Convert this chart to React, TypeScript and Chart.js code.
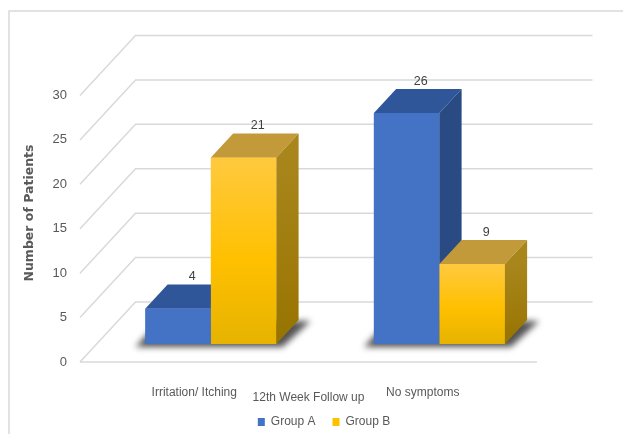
import { useEffect, useRef } from "react";
import { Chart, registerables } from "chart.js";

Chart.register(...registerables);

// ---- data ----
const categories = ["Irritation/ Itching", "No symptoms"];
const seriesNames = ["Group A", "Group B"];
const groupA = [4, 26];
const groupB = [21, 9];
const yMin = 0;
const yMax = 30;
const yStep = 5;
const xTitle = "12th Week Follow up";
const yTitle = "Number of Patients";

// ---- styling ----
const SANS = '"Liberation Sans", Arial, sans-serif';
const TEXT = "#595959";
const GRID = "#d9d9d9";
const BLUE = { front: "#4472c4", top: "#30569a", side: "#294a82" };
const GOLD = { front: "#ffc000", top: "#c39a3a", side: "#a07c12" };
const LEGEND_COLORS = ["#4472c4", "#ffc000"];

// oblique depth of the plot box and where the bars sit inside it
const DEPTH = { x: 55.5, y: -60 };
const BAR_FRONT = 0.3;
const BAR_DEPTH = 0.4;

const W = 623;
const H = 440;

function goldFront(c: any) {
  const chart = c.chart;
  const ys = chart.scales?.y;
  if (!ys || !c.parsed) return GOLD.front;
  const top = ys.getPixelForValue(c.parsed.y);
  const base = ys.getPixelForValue(0);
  if (!Number.isFinite(top) || !Number.isFinite(base) || top === base) return GOLD.front;
  const g = chart.ctx.createLinearGradient(0, top, 0, base);
  g.addColorStop(0, "#ffc93f");
  g.addColorStop(0.55, "#ffc000");
  g.addColorStop(1, "#e6b300");
  return g;
}

function goldSide(ctx: CanvasRenderingContext2D, top: number, base: number) {
  const g = ctx.createLinearGradient(0, top, 0, base);
  g.addColorStop(0, "#a9861c");
  g.addColorStop(1, "#977400");
  return g;
}

const faces = [BLUE, GOLD];

const box3d = {
  id: "box3d",
  beforeDraw(chart: any) {
    const { ctx } = chart;
    ctx.save();
    ctx.strokeStyle = GRID;
    ctx.lineWidth = 1.5;
    ctx.beginPath();
    ctx.moveTo(9, H);
    ctx.lineTo(9, 11);
    ctx.lineTo(W, 11);
    ctx.stroke();
    ctx.restore();
  },
  beforeDatasetsDraw(chart: any) {
    const { ctx, chartArea } = chart;
    const { left, right } = chartArea;
    const y = chart.scales.y;
    ctx.save();
    ctx.strokeStyle = GRID;
    ctx.lineWidth = 1.5;
    for (const t of y.ticks) {
      const py = y.getPixelForValue(t.value);
      ctx.beginPath();
      ctx.moveTo(left, py);
      ctx.lineTo(left + DEPTH.x, py + DEPTH.y);
      ctx.lineTo(right + DEPTH.x, py + DEPTH.y);
      ctx.stroke();
    }
    const y0 = y.getPixelForValue(0);
    ctx.beginPath();
    ctx.moveTo(left, y0);
    ctx.lineTo(right, y0);
    ctx.stroke();

    // soft floor shadow under each bar group
    ctx.translate(DEPTH.x * BAR_FRONT, DEPTH.y * BAR_FRONT);
    const m0 = chart.getDatasetMeta(0).data;
    const m1 = chart.getDatasetMeta(1).data;
    const dx = DEPTH.x * BAR_DEPTH;
    const dy = DEPTH.y * BAR_DEPTH;
    ctx.filter = "blur(3px)";
    ctx.fillStyle = "rgba(40,40,40,0.8)";
    for (let i = 0; i < m0.length; i++) {
      const a = m0[i];
      const b = m1[i];
      const x1 = a.x - a.width / 2;
      const x2 = b.x + b.width / 2;
      const base = a.base;
      ctx.beginPath();
      ctx.moveTo(x1 - 10, base + 3);
      ctx.lineTo(x2 + 6, base + 3);
      ctx.lineTo(x2 + dx + 12, base + dy + 1);
      ctx.lineTo(x1 + dx - 8, base + dy + 1);
      ctx.closePath();
      ctx.fill();
    }
    ctx.filter = "none";
    ctx.restore();

    // bars are drawn one step into the box
    ctx.save();
    ctx.translate(DEPTH.x * BAR_FRONT, DEPTH.y * BAR_FRONT);
  },
  afterDatasetsDraw(chart: any) {
    const { ctx } = chart;
    const dx = DEPTH.x * BAR_DEPTH;
    const dy = DEPTH.y * BAR_DEPTH;
    const metas = chart.data.datasets.map((_: any, d: number) => chart.getDatasetMeta(d).data);
    const n = metas[0].length;
    for (let i = 0; i < n; i++) {
      for (let d = 0; d < metas.length; d++) {
        const el = metas[d][i];
        const xL = el.x - el.width / 2;
        const xR = el.x + el.width / 2;
        const top = el.y;
        const base = el.base;
        el.draw(ctx);
        // top face
        ctx.save();
        ctx.fillStyle = faces[d].top;
        ctx.beginPath();
        ctx.moveTo(xL, top);
        ctx.lineTo(xR, top);
        ctx.lineTo(xR + dx, top + dy);
        ctx.lineTo(xL + dx, top + dy);
        ctx.closePath();
        ctx.fill();
        // side face
        ctx.fillStyle = d === 1 ? goldSide(ctx, top, base) : faces[d].side;
        ctx.beginPath();
        ctx.moveTo(xR, top);
        ctx.lineTo(xR + dx, top + dy);
        ctx.lineTo(xR + dx, base + dy);
        ctx.lineTo(xR, base);
        ctx.closePath();
        ctx.fill();
        ctx.restore();
      }
    }
    // value labels
    ctx.save();
    ctx.fillStyle = "#404040";
    ctx.font = `12.5px ${SANS}`;
    ctx.textAlign = "center";
    ctx.textBaseline = "middle";
    for (let d = 0; d < metas.length; d++) {
      const values = chart.data.datasets[d].data;
      metas[d].forEach((el: any, i: number) => {
        ctx.fillText(String(values[i]), el.x + 14, el.y - 31.5);
      });
    }
    ctx.restore();
    ctx.restore();
  },
  afterDraw(chart: any) {
    const { ctx } = chart;
    ctx.save();
    ctx.translate(30, 213);
    ctx.rotate(-Math.PI / 2);
    ctx.fillStyle = TEXT;
    ctx.font = `bold 12.5px "DejaVu Sans", sans-serif`;
    ctx.textAlign = "center";
    ctx.textBaseline = "middle";
    ctx.fillText(yTitle, 0, 0);
    ctx.restore();
  },
};

export default function App() {
  const ref = useRef<HTMLCanvasElement | null>(null);

  useEffect(() => {
    if (!ref.current) return;
    const chart = new Chart(ref.current, {
      type: "bar",
      data: {
        labels: categories,
        datasets: [
          {
            label: seriesNames[0],
            data: groupA,
            backgroundColor: BLUE.front,
            categoryPercentage: 0.5733,
            barPercentage: 1,
            clip: false,
          } as any,
          {
            label: seriesNames[1],
            data: groupB,
            backgroundColor: goldFront,
            categoryPercentage: 0.5733,
            barPercentage: 1,
            clip: false,
          } as any,
        ],
      },
      options: {
        animation: false,
        responsive: false,
        devicePixelRatio: 1,
        layout: { padding: { top: 95.5, left: 25, right: 0, bottom: 2 } },
        plugins: {
          legend: {
            position: "bottom",
            labels: {
              boxWidth: 7,
              boxHeight: 8,
              padding: 17,
              color: TEXT,
              font: { family: SANS, size: 12 },
              generateLabels: (c: any) =>
                Chart.defaults.plugins.legend.labels.generateLabels(c).map((l: any, i: number) => ({
                  ...l,
                  fillStyle: LEGEND_COLORS[i],
                  strokeStyle: LEGEND_COLORS[i],
                  lineWidth: 0,
                })),
            },
          },
          tooltip: { enabled: false },
        },
        scales: {
          x: {
            type: "category",
            grid: { display: false, drawTicks: false },
            border: { display: false },
            ticks: { color: TEXT, font: { family: SANS, size: 12 }, padding: 23 },
            title: {
              display: true,
              text: xTitle,
              color: TEXT,
              font: { family: SANS, size: 12 },
              padding: { top: 0, bottom: -6.2 },
            },
            afterFit: (s: any) => {
              s.height = 37;
            },
          },
          y: {
            type: "linear",
            min: yMin,
            max: yMax,
            grid: { display: false, drawTicks: false },
            border: { display: false },
            ticks: { stepSize: yStep, color: TEXT, font: { family: SANS, size: 13 }, padding: 13 },
            afterFit: (s: any) => {
              s.width = 55;
            },
          },
          yR: {
            type: "linear",
            position: "right",
            grid: { display: false, drawTicks: false },
            border: { display: false },
            ticks: { display: false },
            afterFit: (s: any) => {
              s.width = 86;
            },
          },
        },
      } as any,
      plugins: [box3d],
    });
    return () => chart.destroy();
  }, []);

  return (
    <div style={{ position: "fixed", left: 0, top: 0, width: W, height: H, background: "#fff" }}>
      <canvas ref={ref} width={W} height={H} style={{ display: "block" }} />
    </div>
  );
}
